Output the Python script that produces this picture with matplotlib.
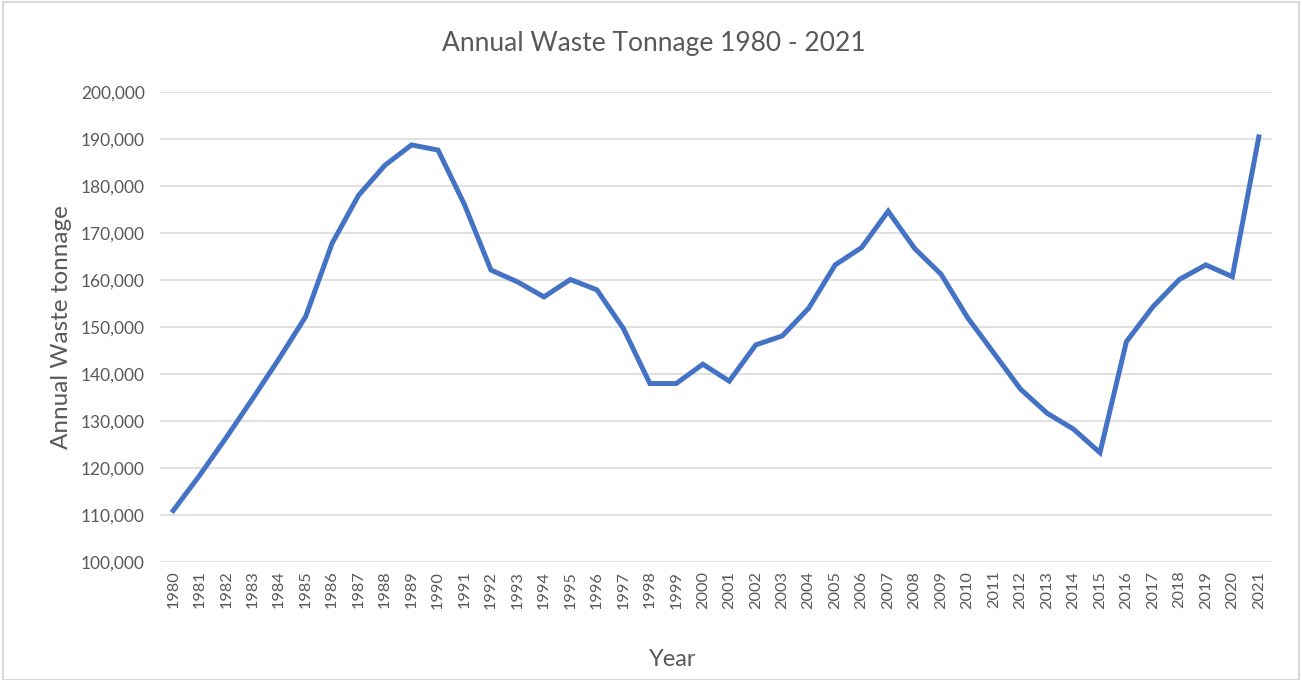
import matplotlib.pyplot as plt
from matplotlib.ticker import FuncFormatter
from matplotlib.patches import Rectangle

# values
years = list(range(1980, 2022))
tonnage = [
    111000, 118500, 126500, 134800, 143300, 152200, 167800, 178000, 184400, 188700,
    187600, 176000, 162100, 159600, 156400, 160100, 157900, 149700, 138000, 138000,
    142100, 138500, 146200, 148100, 154000, 163200, 166900, 174600, 166700, 161200,
    152000, 144400, 136800, 131700, 128300, 123300, 146900, 154300, 160100, 163200,
    160700, 190400,
]

plt.rcParams['font.family'] = ['Lato', 'DejaVu Sans']
text_col = '#595959'
grid_col = '#D9D9D9'

fig = plt.figure(figsize=(13.02, 6.80), dpi=100)
ax = fig.add_axes([0.1229, 0.1731, 0.977 - 0.1229, 0.8651 - 0.1731])

# chart-area border like the spreadsheet export
fig.patches.append(Rectangle((0.002, 0.0), 0.996, 0.997, transform=fig.transFigure,
                             fill=False, edgecolor=grid_col, linewidth=1.5))

x = list(range(len(years)))
ax.plot(x, tonnage, color='#4472C4', linewidth=3.6, solid_joinstyle='miter', zorder=3)

ax.set_xlim(-0.5, len(years) - 0.5)
ax.set_ylim(100000, 200000)
ax.set_yticks(range(100000, 200001, 10000))
ax.yaxis.set_major_formatter(FuncFormatter(lambda v, p: f"{int(v):,}"))
ax.set_xticks(x)
ax.set_xticklabels([str(y) for y in years], rotation=90)

ax.grid(axis='y', color=grid_col, linewidth=1.1)
ax.set_axisbelow(True)
for s in ax.spines.values():
    s.set_visible(False)
ax.tick_params(axis='both', length=0, colors=text_col)
ax.tick_params(axis='y', pad=11, labelsize=12.5)
ax.tick_params(axis='x', pad=6, labelsize=11.8)

# title and x label are centred on the whole chart, not the plot area
fig.text(654 / 1302, 1 - 43 / 680, "Annual Waste Tonnage 1980 - 2021", fontsize=19,
         color=text_col, ha='center', va='center')
fig.text(673 / 1302, 1 - 660 / 680, "Year", fontsize=17, color=text_col,
         ha='center', va='center')
fig.text(62 / 1302, 1 - 327 / 680, "Annual Waste tonnage", fontsize=17.5,
         color=text_col, ha='center', va='center', rotation=90)

fig.savefig('out.png', dpi=100)
